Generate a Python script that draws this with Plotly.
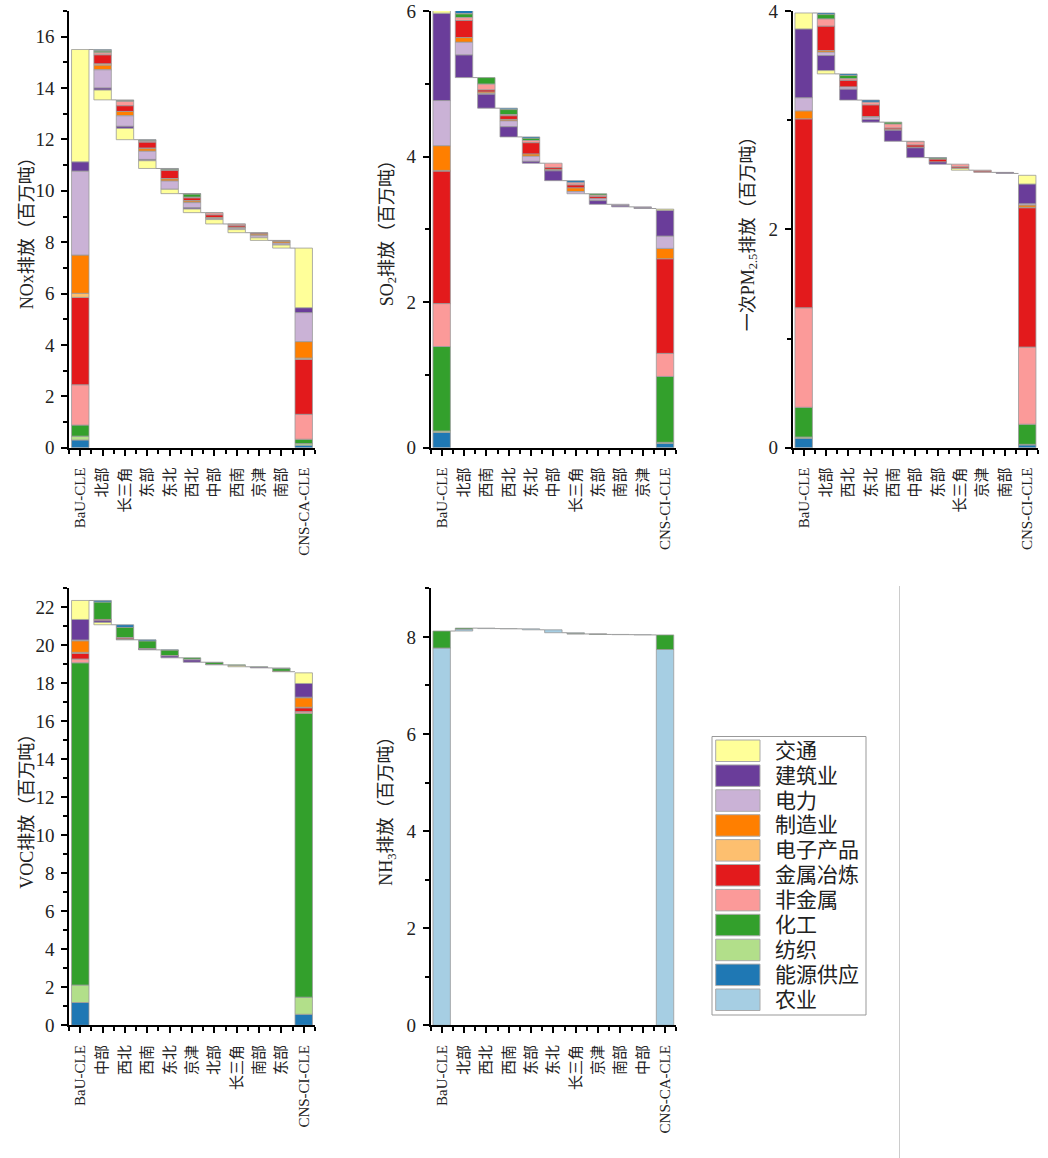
import plotly.graph_objects as go

# ---------------- data ----------------
SECTORS = ['农业', '能源供应', '纺织', '化工', '非金属', '金属冶炼', '电子产品', '制造业', '电力', '建筑业', '交通']
COLORS = ['#a6cee3', '#1f78b4', '#b2df8a', '#33a02c', '#fb9a99', '#e31a1c',
          '#fdbf6f', '#ff7f00', '#cab2d6', '#6a3d9a', '#ffff99']

# NOx
NOX_LABELS = ['BaU-CLE', '北部', '长三角', '东部', '东北', '西北', '中部', '西南', '京津', '南部', 'CNS-CA-CLE']
NOX_BAU = [0, 0.30, 0.15, 0.43, 1.57, 3.40, 0.16, 1.49, 3.27, 0.36, 4.37]
NOX_CNS = [0, 0.10, 0.06, 0.17, 0.97, 2.14, 0.05, 0.64, 1.13, 0.19, 2.32]
NOX_STEPS = [
    [0, 0.05, 0.02, 0.06, 0.08, 0.35, 0.05, 0.18, 0.71, 0.08, 0.38],
    [0, 0.03, 0, 0.03, 0.17, 0.22, 0, 0.17, 0.41, 0.08, 0.44],
    [0, 0.02, 0.01, 0.03, 0.04, 0.23, 0.02, 0.10, 0.32, 0.05, 0.30],
    [0, 0.02, 0.01, 0.03, 0.02, 0.31, 0.02, 0.08, 0.32, 0, 0.17],
    [0, 0.01, 0.01, 0.12, 0.03, 0.11, 0.01, 0.06, 0.20, 0.05, 0.14],
    [0, 0, 0, 0.01, 0.08, 0.10, 0.01, 0.03, 0.04, 0, 0.17],
    [0, 0, 0, 0.01, 0.06, 0.06, 0.01, 0.03, 0.05, 0, 0.12],
    [0, 0, 0, 0, 0.01, 0.04, 0.01, 0.06, 0.08, 0, 0.10],
    [0, 0, 0, 0, 0.01, 0.02, 0.02, 0.06, 0.07, 0, 0.12],
]

# SO2
SO2_LABELS = ['BaU-CLE', '北部', '西南', '西北', '东北', '中部', '长三角', '东部', '南部', '京津', 'CNS-CI-CLE']
SO2_BAU = [0, 0.21, 0.02, 1.16, 0.59, 1.82, 0.01, 0.34, 0.62, 1.20, 0.04]
SO2_CNS = [0, 0.06, 0.014, 0.905, 0.317, 1.30, 0, 0.142, 0.17, 0.355, 0.015]
SO2_STEPS = [
    [0, 0.046, 0.005, 0.05, 0.04, 0.235, 0, 0.064, 0.175, 0.31, 0],
    [0, 0, 0, 0.09, 0.08, 0.03, 0, 0.02, 0.01, 0.19, 0],
    [0, 0.02, 0, 0.07, 0.015, 0.05, 0, 0.02, 0.08, 0.14, 0],
    [0, 0.02, 0, 0.03, 0.03, 0.156, 0, 0.03, 0.07, 0.025, 0],
    [0, 0, 0, 0, 0.06, 0.025, 0, 0.015, 0.005, 0.135, 0],
    [0, 0.03, 0, 0, 0.03, 0.04, 0, 0.05, 0.03, 0, 0],
    [0, 0, 0, 0.02, 0.02, 0.03, 0, 0, 0.025, 0.05, 0],
    [0, 0, 0, 0, 0, 0, 0, 0, 0.015, 0.02, 0],
    [0, 0, 0, 0, 0, 0, 0, 0, 0.013, 0.01, 0],
]

# primary PM2.5
PM_LABELS = ['BaU-CLE', '北部', '西北', '东北', '西南', '中部', '东部', '长三角', '京津', '南部', 'CNS-CI-CLE']
PM_BAU = [0, 0.086, 0.012, 0.272, 0.912, 1.73, 0, 0.074, 0.12, 0.63, 0.146]
PM_CNS = [0, 0.025, 0.006, 0.184, 0.707, 1.276, 0.005, 0.02, 0.012, 0.18, 0.08]
PM_STEPS = [
    [0, 0.015, 0, 0.04, 0.067, 0.223, 0, 0.015, 0.03, 0.138, 0.03],
    [0, 0.015, 0, 0.03, 0.015, 0.06, 0, 0, 0.02, 0.10, 0],
    [0, 0.02, 0, 0, 0.025, 0.107, 0, 0.005, 0.02, 0.025, 0],
    [0, 0, 0, 0.018, 0.037, 0.015, 0, 0.005, 0, 0.10, 0],
    [0, 0, 0, 0.005, 0.03, 0.02, 0, 0.005, 0, 0.09, 0],
    [0, 0.005, 0, 0.01, 0, 0.025, 0, 0, 0, 0.02, 0],
    [0, 0, 0, 0, 0.025, 0.012, 0, 0.003, 0, 0, 0.015],
    [0, 0, 0, 0, 0.01, 0.01, 0, 0, 0, 0, 0],
    [0, 0, 0, 0, 0, 0.002, 0, 0, 0, 0.008, 0],
]

# VOC
VOC_LABELS = ['BaU-CLE', '中部', '西北', '西南', '东北', '京津', '北部', '长三角', '南部', '东部', 'CNS-CI-CLE']
VOC_BAU = [0, 1.2, 0.92, 16.96, 0.2, 0.3, 0.05, 0.61, 0.04, 1.08, 1.0]
VOC_CNS = [0, 0.58, 0.9, 14.95, 0.08, 0.2, 0.03, 0.5, 0.03, 0.72, 0.56]
VOC_STEPS = [
    [0, 0.09, 0, 0.91, 0.02, 0.05, 0, 0, 0, 0.09, 0.12],
    [0, 0.14, 0, 0.54, 0.03, 0.06, 0, 0.01, 0, 0.01, 0],
    [0, 0.07, 0, 0.39, 0.01, 0.02, 0, 0.01, 0, 0.03, 0],
    [0, 0.02, 0, 0.28, 0, 0.01, 0, 0.01, 0, 0.10, 0],
    [0, 0, 0, 0.08, 0, 0, 0, 0, 0.03, 0.12, 0],
    [0, 0.02, 0, 0.10, 0, 0, 0, 0, 0, 0.02, 0],
    [0, 0, 0, 0.04, 0, 0, 0, 0, 0, 0, 0.06],
    [0, 0, 0, 0.03, 0, 0, 0, 0, 0, 0.03, 0],
    [0, 0.04, 0, 0.14, 0, 0, 0, 0.02, 0, 0, 0],
]

# NH3 (negative value = increase)
NH3_LABELS = ['BaU-CLE', '北部', '西北', '西南', '东部', '东北', '长三角', '京津', '南部', '中部', 'CNS-CA-CLE']
NH3_BAU = [7.77, 0, 0, 0.35, 0, 0, 0, 0, 0, 0, 0]
NH3_CNS = [7.74, 0, 0, 0.30, 0, 0, 0, 0, 0, 0, 0]
NH3_STEPS = [
    [-0.04, 0, 0, -0.02, 0, 0, 0, 0, 0, 0, 0],
    [0.01, 0, 0, 0, 0, 0, 0, 0, 0, 0, 0],
    [0.005, 0, 0, 0, 0, 0, 0, 0, 0, 0, 0],
    [0.02, 0, 0, 0, 0, 0, 0, 0, 0, 0, 0],
    [0.06, 0, 0, 0, 0, 0, 0, 0, 0, 0, 0],
    [0.02, 0, 0, 0.005, 0, 0, 0, 0, 0, 0, 0],
    [0.005, 0, 0, 0.005, 0, 0, 0, 0, 0, 0, 0],
    [0.005, 0, 0, 0, 0, 0, 0, 0, 0, 0, 0],
    [0.005, 0, 0, 0, 0, 0, 0, 0, 0, 0, 0],
]

Y_TITLES = ['NOx排放（百万吨）', 'SO<sub>2</sub>排放（百万吨）', '一次PM<sub>2.5</sub>排放（百万吨）',
            'VOC排放（百万吨）', 'NH<sub>3</sub>排放（百万吨）']
Y_MAX = [17, 6, 4, 23, 9]

# ---------------- layout geometry ----------------
W, H = 1048, 1158
COL_X = [(69.1, 314.9), (430.5, 676.2), (792.5, 1038.4)]
ROW_Y = [(11, 447.7), (588.3, 1025.3)]
TITLE_X = [27, 388, 749]
FONT = 'Liberation Serif, Noto Sans CJK SC, serif'
BAR_W = 0.78
EDGE = '#9a9a9a'

panels = [
    (NOX_LABELS, NOX_BAU, NOX_CNS, NOX_STEPS, 0, 0),
    (SO2_LABELS, SO2_BAU, SO2_CNS, SO2_STEPS, 1, 0),
    (PM_LABELS, PM_BAU, PM_CNS, PM_STEPS, 2, 0),
    (VOC_LABELS, VOC_BAU, VOC_CNS, VOC_STEPS, 0, 1),
    (NH3_LABELS, NH3_BAU, NH3_CNS, NH3_STEPS, 1, 1),
]

fig = go.Figure()
layout = dict(width=W, height=H, margin=dict(l=0, r=0, t=0, b=0, pad=0, autoexpand=False),
              paper_bgcolor='white', plot_bgcolor='white', barmode='overlay',
              showlegend=False, annotations=[], shapes=[])

for k, (labels, bau, cns, steps, col, row) in enumerate(panels, start=1):
    xa = 'x' if k == 1 else f'x{k}'
    ya = 'y' if k == 1 else f'y{k}'
    segs = {s: ([], [], []) for s in range(len(SECTORS))}

    def add(s, x, h, b):
        segs[s][0].append(x)
        segs[s][1].append(h)
        segs[s][2].append(b)

    b = 0
    for s, v in enumerate(bau):
        if v > 0:
            add(s, 0, v, b)
            b += v
    level = b
    levels = [level]
    for i, st in enumerate(steps):
        tot = sum(st)
        new = level - tot
        if tot >= 0:
            b = new
            for s in reversed(range(len(SECTORS))):
                if st[s] > 0:
                    add(s, i + 1, st[s], b)
                    b += st[s]
        else:
            b = level
            for s in range(len(SECTORS)):
                if st[s] < 0:
                    add(s, i + 1, -st[s], b)
                    b += -st[s]
        level = new
        levels.append(level)
    b = 0
    last = len(labels) - 1
    for s, v in enumerate(cns):
        if v > 0:
            add(s, last, v, b)
            b += v

    for s in range(len(SECTORS)):
        xs, ys, bs = segs[s]
        if xs:
            fig.add_trace(go.Bar(x=xs, y=ys, base=bs, width=BAR_W, name=SECTORS[s],
                                 marker=dict(color=COLORS[s], line=dict(color=EDGE, width=0.8)),
                                 xaxis=xa, yaxis=ya, showlegend=False))
    cx, cy = [], []
    for i in range(last):
        cx += [i + BAR_W / 2, i + 1 - BAR_W / 2, None]
        cy += [levels[i], levels[i], None]
    fig.add_trace(go.Scatter(x=cx, y=cy, mode='lines', line=dict(color=EDGE, width=1),
                             xaxis=xa, yaxis=ya, showlegend=False, hoverinfo='skip'))

    x0, x1 = COL_X[col]
    y0, y1 = ROW_Y[row]
    common = dict(showline=True, linecolor='black', linewidth=1.6, ticks='outside',
                  tickcolor='black', tickwidth=1.5, ticklen=6, showgrid=False, zeroline=False,
                  fixedrange=True, automargin=False)
    layout['xaxis' if k == 1 else f'xaxis{k}'] = dict(
        common, domain=[x0 / W, x1 / W], anchor=ya, range=[-0.5, 10.5],
        tickmode='array', tickvals=list(range(len(labels))), ticktext=labels, tickangle=-90,
        ticklabelstandoff=6,
        tickfont=dict(family=FONT, size=15, color='#222'),
        minor=dict(ticks='outside', tick0=0.5, dtick=1, ticklen=4, tickcolor='black', tickwidth=1.5))
    layout['yaxis' if k == 1 else f'yaxis{k}'] = dict(
        common, domain=[1 - y1 / H, 1 - y0 / H], anchor=xa, range=[0, Y_MAX[k - 1]],
        tickmode='linear', tick0=0, dtick=2, ticklabelstandoff=3,
        tickfont=dict(family=FONT, size=19, color='#222'),
        minor=dict(ticks='outside', tick0=0, dtick=1, ticklen=4, tickcolor='black', tickwidth=1.5))
    layout['annotations'].append(dict(
        text=Y_TITLES[k - 1], xref='paper', yref='paper', x=TITLE_X[col] / W,
        y=1 - (y0 + y1) / 2 / H, textangle=-90, showarrow=False, xanchor='center', yanchor='middle',
        font=dict(family=FONT, size=18, color='#222')))

# ---------------- manual legend ----------------
LX0, LX1, LY0, LY1 = 712, 866, 736.5, 1015
layout['shapes'].append(dict(type='rect', xref='paper', yref='paper',
                             x0=LX0 / W, x1=LX1 / W, y0=1 - LY1 / H, y1=1 - LY0 / H,
                             line=dict(color='#999', width=1), fillcolor='white', layer='below'))
order = list(reversed(range(len(SECTORS))))
for j, s in enumerate(order):
    top = 740 + 24.9 * j
    layout['shapes'].append(dict(type='rect', xref='paper', yref='paper',
                                 x0=715.7 / W, x1=760 / W, y0=1 - (top + 21.5) / H, y1=1 - top / H,
                                 line=dict(color='#aaa', width=1), fillcolor=COLORS[s]))
    layout['annotations'].append(dict(text=SECTORS[s], xref='paper', yref='paper',
                                      x=773 / W, y=1 - (top + 10.75) / H, xanchor='left', yanchor='middle',
                                      showarrow=False, font=dict(family=FONT, size=21, color='#222')))

# panel border line at right bottom
layout['shapes'].append(dict(type='line', xref='paper', yref='paper', x0=899.5 / W, x1=899.5 / W,
                             y0=0, y1=1 - 586 / H, line=dict(color='#cccccc', width=1)))

fig.update_layout(**layout)
fig.write_html('out.html')
